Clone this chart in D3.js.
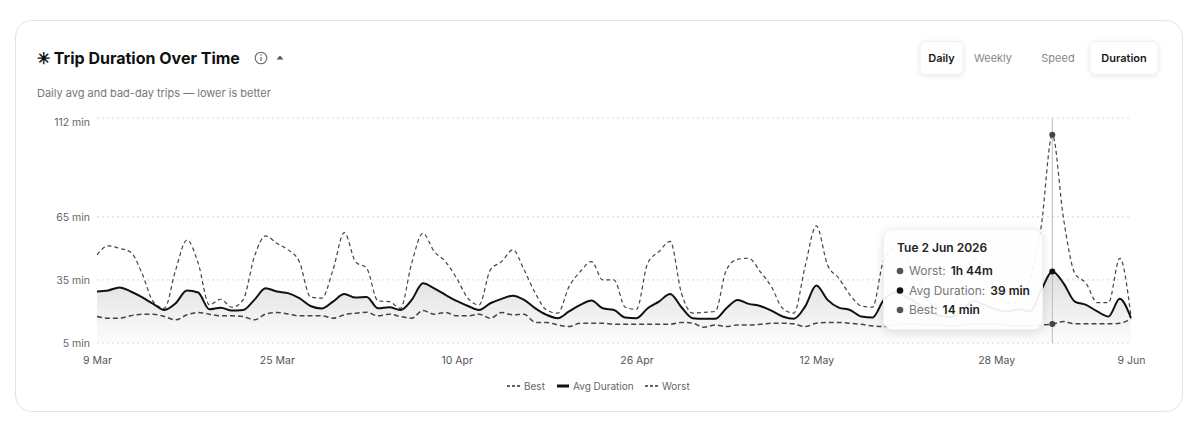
<!DOCTYPE html>
<html>
<head>
<meta charset="utf-8">
<script src="https://cdn.jsdelivr.net/npm/d3@7/dist/d3.min.js"></script>
<style>
  html, body { margin: 0; padding: 0; background: #fff; }
  svg { display: block; font-family: Inter, "Noto Sans", sans-serif; }
</style>
</head>
<body>
<svg id="chart" width="1200" height="432"></svg>
<script>
// ---- data ----
const startDate = "2026-03-09";
const avgDuration = [29.5,30,31.4,29.5,26.8,23.6,20.7,23.9,30,29,21,21.8,20.4,20.7,25.5,31,29.5,28.7,26.3,22.6,21.4,24.7,28.3,26.6,26.9,
  21.5,22,20.7,25.5,33.4,31,27.9,25,22.6,20.7,23.9,26,27.5,25.5,21.5,18.4,16.8,20,23.1,25.2,21.5,20.7,17.1,16.8,
  21.5,24.7,28.3,22,16.8,16.5,16.5,21.5,25.5,23.6,22.6,20.4,17.6,16.5,22.3,32.3,25.5,21.8,20.7,17.6,17.1,25.5,
  29,27,24,20,18,17.5,21,25,23,21,20,21,20,30,39,33.4,24.7,23.1,20,17.6,26,16.8];
const worstDuration = [46.9,51.2,50,48.2,38.2,24.7,21.5,39.8,54,43,23.1,25.8,22,25.5,46,55.9,52.4,49.3,43.7,26.8,26.3,39.8,57.5,43.7,40.5,
  25,24.7,21.5,43,57.2,48.5,43.7,35.8,26.3,23.1,39.8,43.7,49.3,39.8,28.7,20.7,19.2,31.8,39,43.7,35,35,22,21,
  43,48.5,53.3,28.7,19.2,19.6,20,39.8,44.8,45.3,39,31.8,21.5,19.2,41.3,60.7,42.1,35.8,27.9,22.6,22,44.5,
  50,45,35,25,22,22,35,45,40,30,24,24,35,60,104,64,38.2,33.4,24.2,24.2,45.3,17.5];
const bestDuration = [17.6,16.8,16.8,18,18.7,18.7,17.6,16,18.4,19.5,18.7,17.9,17.9,17.6,16,18.8,19.5,18.8,17.9,17.9,17.9,16.8,18.4,19.2,19.6,
  17.9,18.7,17.6,16.8,20.4,18.7,19.5,17.9,17.9,18.7,16.8,19.5,18.4,18.7,14.8,14.8,13.6,12.8,14.4,14.4,14.4,13.9,13.9,13.9,
  13.9,13.9,13.9,14.8,14.4,12.5,13.6,12.8,13.6,13.6,13.9,14.4,14.4,14.1,12.8,14.4,14.8,14.8,14.4,13.9,13.1,12.8,
  13.5,14,14,13.5,13.5,13,13.5,14,14,14,13.5,13,13,13.6,14,15.2,14.1,14.1,14.1,14.1,14.4,16.5];
const xTickDates = ["2026-03-09","2026-03-25","2026-04-10","2026-04-26","2026-05-12","2026-05-28","2026-06-09"];
const xTickLabels = ["9 Mar","25 Mar","10 Apr","26 Apr","12 May","28 May","9 Jun"];
const yTickValues = [5, 35, 65, 112];
const yTickLabels = ["5 min","35 min","65 min","112 min"];
const hoverIndex = 85;
const legendItems = ["Best","Avg Duration","Worst"];

// ---- build rows ----
const parse = d3.utcParse("%Y-%m-%d");
const t0 = parse(startDate);
const rows = avgDuration.map((v, i) => ({
  date: d3.utcDay.offset(t0, i), avg: v, worst: worstDuration[i], best: bestDuration[i]
}));

const svg = d3.select("#chart");
const defs = svg.append("defs");
const sh = defs.append("filter").attr("id","shadow").attr("x","-20%").attr("y","-20%").attr("width","140%").attr("height","160%");
sh.append("feDropShadow").attr("dx",0).attr("dy",1).attr("stdDeviation",2.5).attr("flood-color","#000").attr("flood-opacity",0.10);
const sh2 = defs.append("filter").attr("id","shadow2").attr("x","-20%").attr("y","-20%").attr("width","140%").attr("height","150%");
sh2.append("feDropShadow").attr("dx",0).attr("dy",2).attr("stdDeviation",5).attr("flood-color","#000").attr("flood-opacity",0.12);
const grad = defs.append("linearGradient").attr("id","areaGrad").attr("x1",0).attr("y1",0).attr("x2",0).attr("y2",1);
grad.append("stop").attr("offset","0%").attr("stop-color","#000").attr("stop-opacity",0.13);
grad.append("stop").attr("offset","100%").attr("stop-color","#000").attr("stop-opacity",0.01);

// card
svg.append("rect").attr("x",15.5).attr("y",20.5).attr("width",1167).attr("height",391).attr("rx",16)
  .attr("fill","#fff").attr("stroke","#e4e4e4");

// title
svg.append("text").attr("x",37).attr("y",64).attr("font-size",16).attr("font-weight",700).attr("fill","#111")
  .attr("font-family","Inter, sans-serif").text("\u2733 Trip Duration Over Time");
// info icon
svg.append("circle").attr("cx",261).attr("cy",58).attr("r",5.8).attr("fill","none").attr("stroke","#666").attr("stroke-width",1.1);
svg.append("line").attr("x1",261).attr("x2",261).attr("y1",57).attr("y2",61).attr("stroke","#666").attr("stroke-width",1.2);
svg.append("circle").attr("cx",261).attr("cy",55).attr("r",0.8).attr("fill","#666");
// caret
svg.append("path").attr("d","M276.5,59.5 L280,55.5 L283.5,59.5 Z").attr("fill","#555");

// subtitle
svg.append("text").attr("x",37).attr("y",97).attr("font-size",11).attr("fill","#777")
  .text("Daily avg and bad-day trips \u2014 lower is better");

// toggle buttons
const buttons = [
  {label:"Daily", cx:941.5, active:true, x:920, w:43},
  {label:"Weekly", cx:993, active:false},
  {label:"Speed", cx:1058, active:false},
  {label:"Duration", cx:1124, active:true, x:1090, w:68}
];
buttons.forEach(b => {
  if (b.active) {
    svg.append("rect").attr("x",b.x).attr("y",41.5).attr("width",b.w).attr("height",33).attr("rx",6)
      .attr("fill","#fff").attr("stroke","#f0f0f0").attr("filter","url(#shadow)");
  }
  svg.append("text").attr("x",b.cx).attr("y",62).attr("text-anchor","middle").attr("font-size",11)
    .attr("font-weight", b.active ? 600 : 400).attr("fill", b.active ? "#1a1a1a" : "#888").text(b.label);
});

// scales
const x = d3.scaleUtc().domain([rows[0].date, rows[rows.length-1].date]).range([97, 1131]);
const y = d3.scaleLinear().domain([5, 112]).range([343, 118]);

// grid
const g = svg.append("g");
g.selectAll("line.grid").data(yTickValues).join("line").attr("class","grid")
  .attr("x1",97).attr("x2",1131).attr("y1",d=>y(d)).attr("y2",d=>y(d))
  .attr("stroke","#d8d8d8").attr("stroke-dasharray","2,3").attr("stroke-width",1);

// y axis labels
const yAxis = d3.axisLeft(y).tickValues(yTickValues).tickSize(0).tickPadding(7)
  .tickFormat((d,i) => yTickLabels[i]);
const ya = svg.append("g").attr("transform","translate(97,0)").call(yAxis);
ya.select(".domain").remove();
ya.selectAll("text").attr("font-size",10.5).attr("fill","#666").attr("font-family","Inter, sans-serif")
  .attr("dy", d => d === 112 ? "0.75em" : "0.32em");

// x axis labels
const xAxis = d3.axisBottom(x).tickValues(xTickDates.map(parse)).tickSize(0).tickPadding(0)
  .tickFormat((d,i) => xTickLabels[i]);
const xa = svg.append("g").attr("transform","translate(0,357)").call(xAxis);
xa.select(".domain").remove();
xa.selectAll("text").attr("font-size",10.5).attr("fill","#555").attr("font-family","Inter, sans-serif");

// area + lines
const curve = d3.curveMonotoneX;
const area = d3.area().x(d=>x(d.date)).y0(y(5)).y1(d=>y(d.avg)).curve(curve);
g.append("path").datum(rows).attr("d",area).attr("fill","url(#areaGrad)");

const lineBest = d3.line().x(d=>x(d.date)).y(d=>y(d.best)).curve(curve);
const lineAvg = d3.line().x(d=>x(d.date)).y(d=>y(d.avg)).curve(curve);
const lineWorst = d3.line().x(d=>x(d.date)).y(d=>y(d.worst)).curve(curve);
g.append("path").datum(rows).attr("d",lineBest).attr("fill","none").attr("stroke","#444")
  .attr("stroke-width",1.5).attr("stroke-dasharray","5,3");
g.append("path").datum(rows).attr("d",lineWorst).attr("fill","none").attr("stroke","#444")
  .attr("stroke-width",1.2).attr("stroke-dasharray","4,3");
g.append("path").datum(rows).attr("d",lineAvg).attr("fill","none").attr("stroke","#111")
  .attr("stroke-width",2);

// hover
const hd = rows[hoverIndex];
const hx = x(hd.date);
g.append("line").attr("x1",hx).attr("x2",hx).attr("y1",118).attr("y2",343).attr("stroke","#bbb").attr("stroke-width",1);
[["worst","#444"],["avg","#111"],["best","#444"]].forEach(([k,c]) => {
  g.append("circle").attr("cx",hx).attr("cy",y(hd[k])).attr("r",3).attr("fill",c);
});

// legend
const lg = svg.append("g").attr("font-size",10).attr("fill","#666");
const legX = [507, 557, 645];
const legT = [524, 573, 662];
legendItems.forEach((name,i) => {
  if (i === 1) {
    lg.append("line").attr("x1",legX[i]).attr("x2",legX[i]+12).attr("y1",386).attr("y2",386)
      .attr("stroke","#111").attr("stroke-width",3);
  } else {
    lg.append("line").attr("x1",legX[i]).attr("x2",legX[i]+13).attr("y1",386).attr("y2",386)
      .attr("stroke","#333").attr("stroke-width",1.5).attr("stroke-dasharray","3,2");
  }
  lg.append("text").attr("x",legT[i]).attr("y",389.5).attr("fill","#666").text(name);
});

// tooltip
function fmt(v) {
  const m = Math.round(v);
  if (m >= 60) return Math.floor(m/60) + "h " + (m%60) + "m";
  return m + " min";
}
const fmtDate = d3.utcFormat("%a %-d %b %Y");
const tt = svg.append("g");
tt.append("rect").attr("x",883.5).attr("y",229.5).attr("width",159).attr("height",100).attr("rx",9)
  .attr("fill","rgba(255,255,255,0.93)").attr("stroke","#f0f0f0").attr("filter","url(#shadow2)");
tt.append("text").attr("x",897).attr("y",251.5).attr("font-size",12).attr("font-weight",600).attr("fill","#222")
  .text(fmtDate(hd.date));
const ttRows = [["Worst", hd.worst, "#555"], ["Avg Duration", hd.avg, "#111"], ["Best", hd.best, "#555"]];
ttRows.forEach(([lab, v, c], i) => {
  const cy = 271 + i*19.5;
  tt.append("circle").attr("cx",900).attr("cy",cy).attr("r",3.3).attr("fill",c);
  const t = tt.append("text").attr("x",909).attr("y",cy+4.2).attr("font-size",12);
  t.append("tspan").attr("fill","#777").text(lab + ":");
  t.append("tspan").attr("fill","#222").attr("font-weight",600).attr("dx",5).text(fmt(v));
});
</script>
</body>
</html>
